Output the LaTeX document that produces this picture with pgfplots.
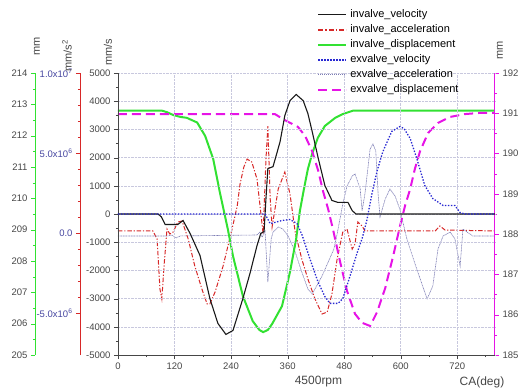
\documentclass[border=0pt]{standalone}
\usepackage{pgfplots}
\pgfplotsset{compat=1.18}
\usetikzlibrary{calc}
\usepackage{fontspec}
\setmainfont{Liberation Sans}
\definecolor{cblack}{RGB}{25,25,25}
\definecolor{cred}{RGB}{215,40,40}
\definecolor{cgreen}{RGB}{50,225,50}
\definecolor{cblue}{RGB}{40,40,210}
\definecolor{cgray}{RGB}{125,125,180}
\definecolor{cmag}{RGB}{230,20,230}
\definecolor{clab}{RGB}{70,70,70}
\definecolor{cbl}{RGB}{70,70,160}
\definecolor{cgrid}{RGB}{200,200,222}
\pgfplotsset{
  base/.style={
    scale only axis, width=377pt, height=282pt,
    at={(0pt,0pt)}, anchor=south west,
    xmin=0, xmax=800,
    tick align=outside,
    major tick length=4pt, minor tick length=2pt,
    tick label style={font=\fontsize{9.5}{11}\selectfont, text=clab},
    /pgf/number format/assume math mode=true,
    /pgf/number format/1000 sep={},
    scaled y ticks=false,
    every axis y label/.style={rotate=90, anchor=west, inner sep=0pt,
      font=\fontsize{11}{12}\selectfont, text=clab},
  },
  ovl/.style={base, hide x axis},
}
\begin{document}
\begin{tikzpicture}
\useasboundingbox (-118pt,-34pt) rectangle (402pt,355pt);
% acceleration axis (red)
\begin{axis}[ovl, axis y line*=left, axis y line shift=38pt,
  ymin=-7.6, ymax=10,
  ytick={-5,0,5,10},
  yticklabels={-5.0x10\textsuperscript{6},0.0,5.0x10\textsuperscript{6},1.0x10\textsuperscript{7}},
  minor y tick num=4,
  y axis line style={cred, line width=0.8pt},
  ytick style={cred},
  yticklabel style={text=cbl},
  ylabel={mm/s\textsuperscript{2}},
  ylabel style={at={($(rel axis cs:0,1)+(-51pt,1pt)$)}},
]
\addplot[cred, line width=1pt, dash pattern=on 4.5pt off 1.8pt on 1.2pt off 1.8pt] coordinates {
(0,0.14)(74,0.14)(83,-0.36)(89,-3.48)(93,-4.10)(98,-1.92)(104,0.26)(110,-0.05)(117,0.07)(127,0.70)(136,0.76)(149,-0.36)(163,-2.05)(178,-3.48)(189,-4.41)(195,-4.41)(206,-3.67)(223,-2.05)(242,0.26)(253,1.70)(259,3.07)(267,4.13)(274,4.63)(284,4.44)(295,3.38)(301,1.82)(308,-0.05)(314,4.63)(318,6.69)(323,2.13)(327,0.39)(340,2.76)(354,3.82)(365,2.45)(376,0.07)(390,-1.61)(403,-2.86)(418,-4.10)(433,-5.04)(444,-4.92)(454,-3.79)(465,-1.61)(477,0.07)(486,0.26)(497,-0.99)(503,-0.67)(509,0.70)(518,0.45)(524,0.14)(673,0.14)(683,0.45)(694,0.20)(800,0.14)};
\addplot[cgray, line width=0.6pt, dash pattern=on 1pt off 0.6pt] coordinates {
(0,-0.17)(106,-0.17)(115,-0.11)(123,-0.30)(132,-0.17)(295,-0.11)(301,0.07)(306,-0.24)(312,0.14)(318,-3.05)(325,-0.36)(329,0.07)(340,0.39)(350,0.26)(361,-0.17)(376,-1.17)(390,-2.42)(403,-3.48)(412,-3.80)(418,-3.48)(433,-2.67)(446,-1.80)(458,-1.0)(465,-0.05)(477,1.82)(486,2.95)(497,3.57)(503,3.70)(514,2.76)(518,1.39)(524,2.45)(535,5.26)(541,5.57)(547,5.13)(552,2.45)(556,1.01)(567,2.13)(577,2.76)(588,2.32)(598,1.51)(613,-0.36)(634,-2.23)(656,-4.10)(668,-3.30)(679,-0.99)(690,-0.17)(705,0.07)(715,-0.36)(726,-2.05)(732,0.26)(741,0.07)(753,-0.17)(800,-0.17)};
\end{axis}
% invalve displacement axis (green)
\begin{axis}[ovl, axis y line*=left, axis y line shift=83pt,
  ymin=205, ymax=214,
  ytick={205,206,...,214},
  minor y tick num=1,
  y axis line style={cgreen, line width=0.8pt},
  ytick style={cgreen},
  ylabel={mm},
  ylabel style={at={($(rel axis cs:0,1)+(-81pt,17pt)$)}},
]
\addplot[cgreen, line width=2pt] coordinates {
(0,212.80)(93,212.80)(104,212.75)(117,212.66)(132,212.60)(146,212.57)(168,212.42)(185,211.99)(202,211.26)(216,210.20)(233,209.02)(244,208.16)(265,206.88)(286,206.08)(300,205.80)(308,205.73)(318,205.80)(327,205.99)(348,206.56)(365,207.65)(378,208.70)(386,209.60)(395,210.33)(403,210.94)(412,211.42)(424,211.93)(439,212.31)(461,212.57)(477,212.69)(499,212.80)(800,212.80)};
\end{axis}
% exvalve displacement axis (magenta, right)
\begin{axis}[ovl, axis y line*=right,
  ymin=185, ymax=192,
  ytick={185,186,...,192},
  minor y tick num=1,
  y axis line style={cmag, line width=1pt},
  ytick style={cmag},
  ylabel={mm},
  ylabel style={at={($(rel axis cs:1,1)+(5pt,13pt)$)}},
]
\addplot[cmag, line width=2pt, dash pattern=on 9pt off 5pt] coordinates {
(0,190.98)(333,190.98)(354,190.83)(382,190.66)(397,190.44)(412,190.06)(425,189.57)(435,189.07)(446,188.62)(457,188.08)(471,187.33)(486,186.59)(503,186.02)(518,185.80)(535,185.72)(550,186.07)(567,186.66)(584,187.46)(598,188.18)(609,188.70)(620,189.12)(630,189.62)(641,190.06)(658,190.51)(679,190.76)(705,190.91)(736,190.98)(768,191.01)(800,191.01)};
\end{axis}
% velocity axis (main)
\begin{axis}[base, name=main, axis x line*=bottom, axis y line*=left,
  ymin=-5000, ymax=5000,
  ytick={-5000,-4000,...,5000},
  minor y tick num=1,
  xtick={0,120,...,720},
  minor xtick={60,180,...,780},
  grid=major,
  major grid style={cgrid, densely dotted, line width=0.5pt},
  axis line style={clab, line width=0.8pt},
  tick style={clab},
  ylabel={mm/s},
  ylabel style={at={($(rel axis cs:0,1)+(-10pt,7pt)$)}},
  xlabel={4500rpm},
  xlabel style={at={($(rel axis cs:0.5,0)+(12pt,-27pt)$)}, anchor=center, inner sep=0pt,
    font=\fontsize{12}{13}\selectfont, text=clab},
  legend style={at={(0.528,1.229)}, anchor=north west, draw=none, fill=none,
    font=\fontsize{11}{12}\selectfont, inner sep=0pt, row sep=2.5pt, column sep=2pt,
    nodes={inner sep=1pt, text height=8pt, text depth=2.5pt}},
  legend cell align=left,
  legend image code/.code={\draw[#1] (0pt,0pt) -- (28pt,0pt);},
]
\addplot[cblack, line width=1.1pt] coordinates {
(0,0)(85,0)(92,-100)(100,-372)(127,-372)(138,-230)(153,-690)(174,-1470)(195,-3000)(212,-3880)(229,-4270)(244,-4130)(265,-3000)(280,-2110)(295,-1120)(303,-690)(310,-620)(314,550)(318,1610)(329,1680)(337,2150)(344,2570)(354,3490)(365,4020)(378,4240)(393,4020)(403,3560)(412,2930)(425,1970)(439,1010)(454,480)(467,410)(488,410)(497,120)(505,0)(800,0)};
\addlegendentry{invalve\_velocity}
\addlegendimage{draw=cred, line width=1.4pt, dash pattern=on 5pt off 2pt on 1.5pt off 2pt}
\addlegendentry{invalve\_acceleration}
\addlegendimage{draw=cgreen, line width=2pt}
\addlegendentry{invalve\_displacement}
\addplot[cblue, line width=1.3pt, dash pattern=on 1.4pt off 1.6pt] coordinates {
(0,0)(312,0)(323,-340)(333,-300)(348,-230)(365,-195)(380,-340)(391,-760)(407,-1580)(424,-2390)(439,-2930)(450,-3170)(467,-3170)(477,-3000)(492,-2220)(507,-1400)(518,-870)(528,-230)(539,730)(550,1540)(562,2210)(581,2930)(598,3100)(607,3030)(620,2680)(634,1970)(651,1010)(668,550)(690,300)(715,300)(726,50)(736,0)(800,0)};
\addlegendentry{exvalve\_velocity}
\addlegendimage{draw=cgray, line width=0.9pt, dash pattern=on 1.2pt off 0.8pt}
\addlegendentry{exvalve\_acceleration}
\addlegendimage{draw=cmag, line width=2pt, dash pattern=on 9pt off 5pt}
\addlegendentry{exvalve\_displacement}
\end{axis}
\node[font=\fontsize{12}{13}\selectfont, text=clab, inner sep=0pt] at ($(main.south west)+(364pt,-27pt)$) {CA(deg)};
\end{tikzpicture}
\end{document}
